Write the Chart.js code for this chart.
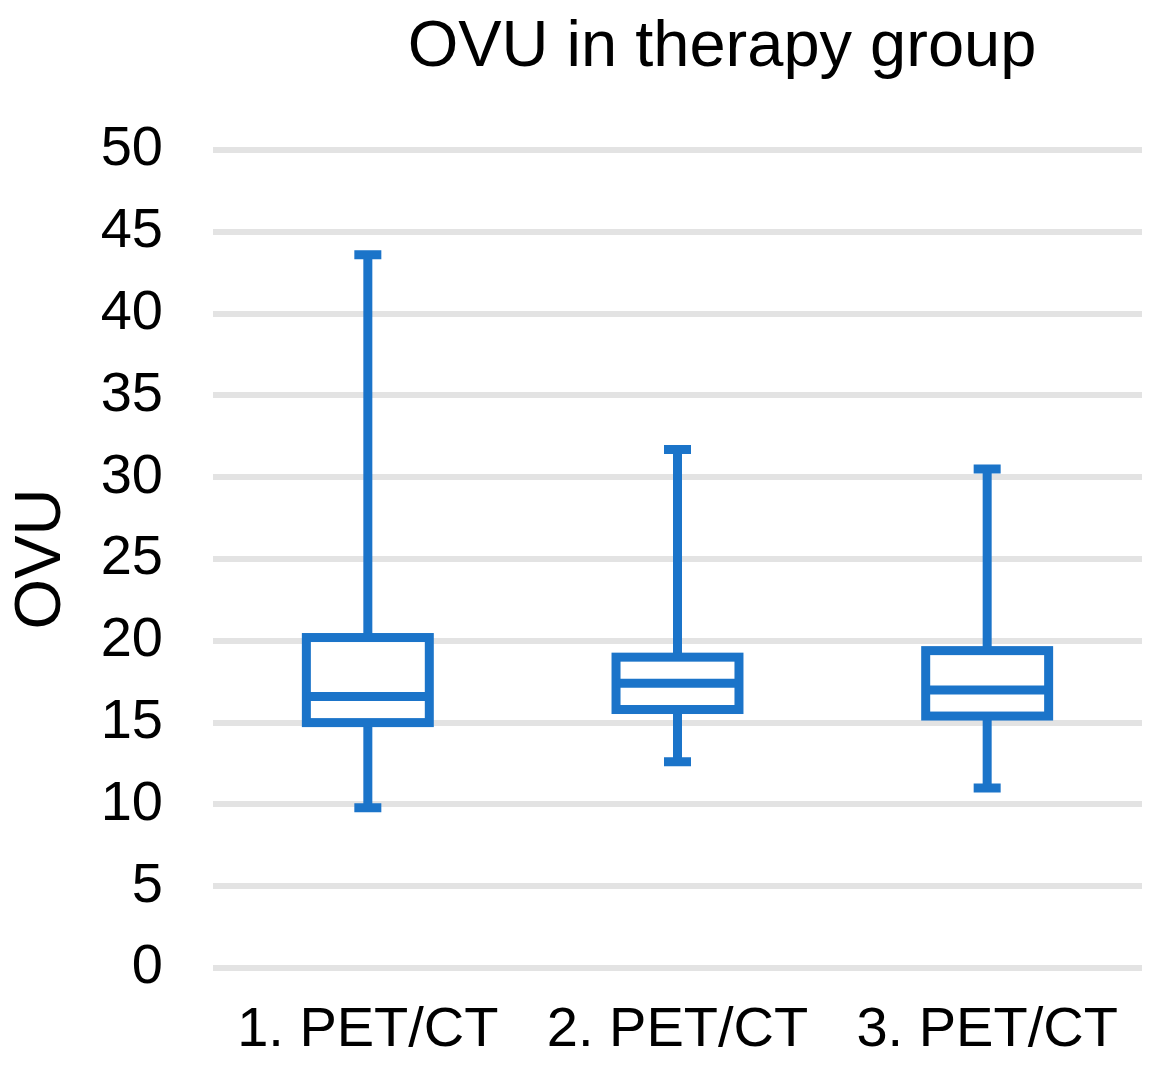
<!DOCTYPE html>
<html>
<head>
<meta charset="utf-8">
<title>OVU in therapy group</title>
<script src="https://cdn.jsdelivr.net/npm/chart.js@4.4.1/dist/chart.umd.min.js"></script>
<style>
  html, body { margin: 0; padding: 0; background: #fff; }
  #wrap { width: 1176px; height: 1086px; }
</style>
</head>
<body>
<div id="wrap"><canvas id="boxChart" width="1176" height="1086"></canvas></div>
<script>
const categories = ['1. PET/CT', '2. PET/CT', '3. PET/CT'];
const whiskerMin = [9.8, 12.6, 11.0];
const quartile1 = [15.0, 15.8, 15.4];
const medians = [16.6, 17.4, 17.0];
const quartile3 = [20.2, 19.0, 19.4];
const whiskerMax = [43.6, 31.7, 30.5];

const yMin = 0;
const yMax = 50;
const yStep = 5;

const BLUE = '#1b74c9';
const FONT = '"Liberation Sans", Arial, sans-serif';

// draws whiskers, box outline and median from the bar elements + y scale
const boxPlotPlugin = {
  id: 'boxPlot',
  afterDatasetsDraw(chart) {
    const ctx = chart.ctx;
    const y = chart.scales.y;
    const meta = chart.getDatasetMeta(0);
    ctx.save();
    ctx.strokeStyle = BLUE;
    ctx.lineWidth = 9;
    ctx.lineCap = 'butt';
    ctx.lineJoin = 'miter';
    meta.data.forEach((bar, i) => {
      const x = bar.x;
      const half = bar.width / 2;
      const capHalf = 13.5;
      const pMin = y.getPixelForValue(whiskerMin[i]);
      const pQ1 = y.getPixelForValue(quartile1[i]);
      const pMed = y.getPixelForValue(medians[i]);
      const pQ3 = y.getPixelForValue(quartile3[i]);
      const pMax = y.getPixelForValue(whiskerMax[i]);

      ctx.beginPath();
      ctx.moveTo(x, pMax);
      ctx.lineTo(x, pQ3);
      ctx.moveTo(x, pQ1);
      ctx.lineTo(x, pMin);
      ctx.moveTo(x - capHalf, pMax);
      ctx.lineTo(x + capHalf, pMax);
      ctx.moveTo(x - capHalf, pMin);
      ctx.lineTo(x + capHalf, pMin);
      ctx.stroke();

      ctx.fillStyle = '#ffffff';
      ctx.fillRect(x - half, pQ3, bar.width, pQ1 - pQ3);
      ctx.strokeRect(x - half, pQ3, bar.width, pQ1 - pQ3);

      ctx.beginPath();
      ctx.moveTo(x - half, pMed);
      ctx.lineTo(x + half, pMed);
      ctx.stroke();
    });
    ctx.restore();
  }
};

// chart title, sits a bit right of the canvas centre like the original
const titlePlugin = {
  id: 'sideTitle',
  afterDraw(chart) {
    const ctx = chart.ctx;
    ctx.save();
    ctx.fillStyle = '#000';
    ctx.font = '65px ' + FONT;
    ctx.textAlign = 'center';
    ctx.textBaseline = 'alphabetic';
    ctx.fillText('OVU in therapy group', 722, 66);
    ctx.restore();
  }
};

function initChart() {
  const canvas = document.getElementById('boxChart');
  new Chart(canvas, {
    type: 'bar',
    data: {
      labels: categories,
      datasets: [{
        label: 'OVU',
        data: categories.map((_, i) => [quartile1[i], quartile3[i]]),
        backgroundColor: 'rgba(0,0,0,0)',
        borderWidth: 0,
        barPercentage: 0.397,
        categoryPercentage: 1
      }]
    },
    options: {
      responsive: false,
      animation: false,
      devicePixelRatio: 1,
      layout: {
        padding: { top: 150, right: 34, bottom: 0, left: 0 }
      },
      plugins: {
        legend: { display: false },
        tooltip: { enabled: false },
        title: { display: false }
      },
      scales: {
        x: {
          afterFit(scale) { scale.height = 118; },
          grid: { display: false, drawTicks: false },
          border: { display: false },
          ticks: {
            color: '#000',
            padding: 29,
            font: { family: FONT, size: 56 }
          }
        },
        y: {
          min: yMin,
          max: yMax,
          afterFit(scale) { scale.width = 213; },
          grid: { color: '#e3e3e3', lineWidth: 6, drawTicks: false },
          border: { display: false },
          ticks: {
            stepSize: yStep,
            color: '#000',
            padding: 50,
            font: { family: FONT, size: 56 }
          },
          title: {
            display: true,
            text: 'OVU',
            color: '#000',
            padding: { top: 3, bottom: 10 },
            font: { family: FONT, size: 65 }
          }
        }
      }
    },
    plugins: [boxPlotPlugin, titlePlugin]
  });
}

if (document.readyState === 'loading') {
  document.addEventListener('DOMContentLoaded', initChart);
} else {
  initChart();
}
</script>
</body>
</html>
